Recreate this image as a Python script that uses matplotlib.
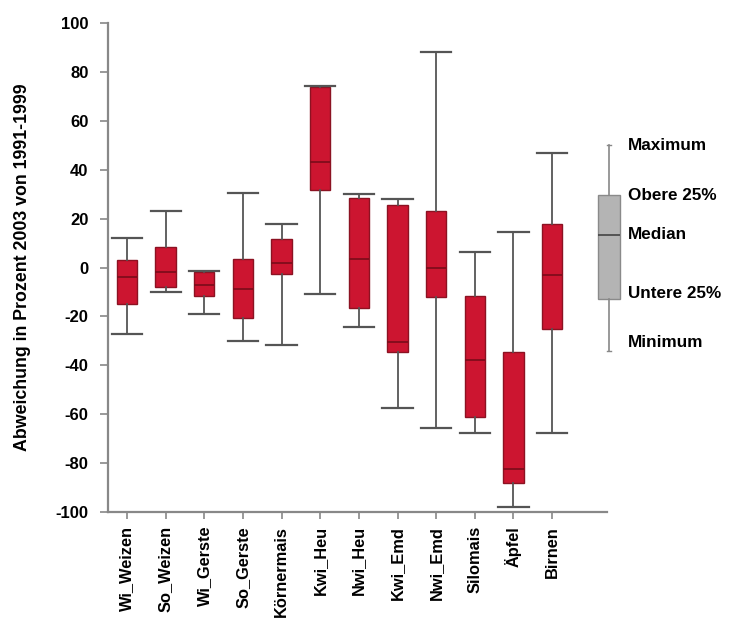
import matplotlib
matplotlib.use("Agg")
import matplotlib.pyplot as plt

plt.rcParams['font.family'] = ['Liberation Sans', 'DejaVu Sans']
plt.rcParams['axes.unicode_minus'] = False

# Kulturen
kulturen = ["Wi_Weizen", "So_Weizen", "Wi_Gerste", "So_Gerste", "Körnermais",
            "Kwi_Heu", "Nwi_Heu", "Kwi_Emd", "Nwi_Emd", "Silomais", "Äpfel", "Birnen"]

# Abweichung 2003 gegenüber 1991-1999 in Prozent
minimum = [-27, -10, -19, -30, -31.5, -11, -24.5, -57.5, -65.5, -67.5, -98, -67.5]
unten25 = [-15, -8, -11.7, -20.7, -2.6, 31.8, -16.5, -34.7, -12, -61, -88.3, -25]
median  = [-4, -2, -7, -8.7, 2, 43, 3.3, -30.6, 0, -37.8, -82.4, -3]
oben25  = [3, 8.3, -2, 3.6, 11.5, 74, 28.5, 25.4, 23, -11.7, -34.7, 17.6]
maximum = [12, 23, -1.6, 30.6, 17.6, 74.2, 30.2, 28.1, 88, 6.3, 14.4, 47]

# Legende (Beispielbox)
leg_werte = [-34, -12.8, 13.4, 29.5, 50.3]
leg_texte = ["Minimum", "Untere 25%", "Median", "Obere 25%", "Maximum"]

rot = "#cc1530"
rand = "#8c1222"
grau = "#555555"

fig = plt.figure(figsize=(7.32, 6.26), dpi=100)
ax = fig.add_axes([108 / 732, 1 - 512 / 626, (607 - 108) / 732, (512 - 23) / 626])

stats = []
for i in range(len(kulturen)):
    stats.append({"whislo": minimum[i], "q1": unten25[i], "med": median[i],
                  "q3": oben25[i], "whishi": maximum[i], "label": kulturen[i]})

pos = list(range(1, len(kulturen) + 1))
ax.bxp(stats, positions=pos, widths=0.53, patch_artist=True, showfliers=False,
       boxprops=dict(facecolor=rot, edgecolor=rand, linewidth=1.0),
       medianprops=dict(color="#7a0c1a", linewidth=1.2),
       whiskerprops=dict(color=grau, linewidth=1.3),
       capprops=dict(color=grau, linewidth=1.6),
       capwidths=0.78)

ax.set_xlim(0.51, 13.42)
ax.set_ylim(-100, 100)
ax.set_yticks(range(-100, 101, 20))
ax.set_xticks(pos)
ax.set_xticklabels(kulturen, rotation=90, fontsize=11.8, fontweight="bold")
for lbl in ax.get_yticklabels():
    lbl.set_fontweight("bold")
ax.tick_params(axis="y", labelsize=12, length=6, width=1.2, color="#888888", pad=8)
ax.tick_params(axis="x", length=5, width=1.2, color="#888888", pad=5)
for s in ["top", "right"]:
    ax.spines[s].set_visible(False)
for s in ["left", "bottom"]:
    ax.spines[s].set_color("#888888")
    ax.spines[s].set_linewidth(1.6)

ax.set_ylabel("Abweichung in Prozent 2003 von 1991-1999", fontsize=12.8, fontweight="bold")
ax.yaxis.set_label_coords(-0.155, 0.5)

# Legendenbox rechts neben dem Diagramm
lax = fig.add_axes([590 / 732, 1 - 512 / 626, 38 / 732, (512 - 23) / 626])
lax.set_xlim(-0.5, 0.5)
lax.set_ylim(-100, 100)
lax.axis("off")
lax.bxp([{"whislo": leg_werte[0], "q1": leg_werte[1], "med": leg_werte[2],
          "q3": leg_werte[3], "whishi": leg_werte[4]}],
        positions=[0], widths=0.58, patch_artist=True, showfliers=False,
        boxprops=dict(facecolor="#b4b4b4", edgecolor="#8a8a8a", linewidth=1.0),
        medianprops=dict(color="#444444", linewidth=1.2),
        whiskerprops=dict(color="#888888", linewidth=1.2),
        capprops=dict(color="#888888", linewidth=1.0),
        capwidths=0.1)
leg_y = [-30.5, -10.5, 13.5, 29.5, 50]
for yv, txt in zip(leg_y, leg_texte):
    lax.text(0.5, yv, txt, fontsize=12.3, fontweight="bold", va="center", ha="left")

fig.savefig("out.png", dpi=100)
